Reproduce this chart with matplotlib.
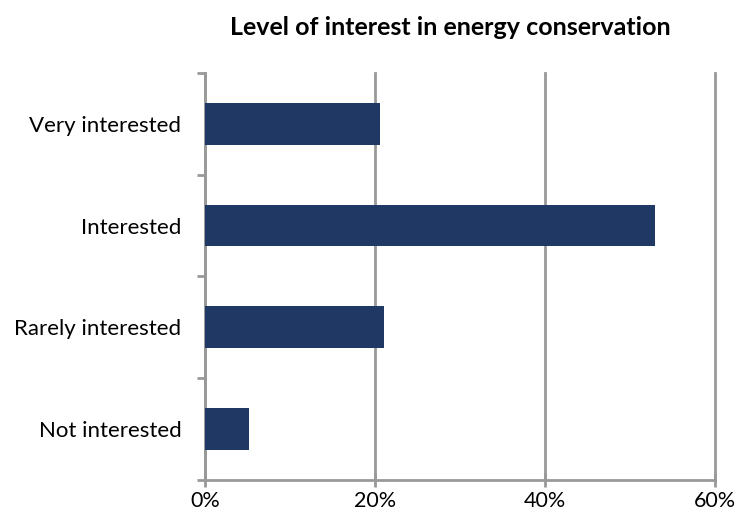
import matplotlib
matplotlib.use("Agg")
import matplotlib.pyplot as plt
import numpy as np

# survey answers, top to bottom as shown
categories = ["Very interested", "Interested", "Rarely interested", "Not interested"]
shares = [20.6, 52.9, 21.1, 5.2]
xticks = [0, 20, 40, 60]
xtick_labels = ["0%", "20%", "40%", "60%"]

plt.rcParams["font.family"] = ["Lato", "DejaVu Sans"]

fig = plt.figure(figsize=(7.39, 5.22), dpi=100)
ax = fig.add_axes([0.2774, 0.0805, 0.6901, 0.7797])

pos = np.arange(len(categories))[::-1]
ax.barh(pos, shares, height=0.41, color="#203864", zorder=3)

ax.set_xlim(0, 60)
ax.set_ylim(-0.5, len(categories) - 0.5)
ax.set_xticks(xticks)
ax.set_xticklabels(xtick_labels, fontsize=15.5)
ax.set_yticks(pos)
ax.set_yticklabels(categories, fontsize=16)
ax.tick_params(axis="y", which="major", length=0, pad=17)
ax.set_yticks(np.arange(len(categories) + 1) - 0.5, minor=True)
ax.tick_params(axis="y", which="minor", length=6, width=2, color="#999999", direction="out")
ax.tick_params(axis="x", length=10, width=2, color="#999999", direction="inout", pad=3)

ax.grid(axis="x", color="#999999", linewidth=2, zorder=0)
for line in ax.xaxis.get_gridlines():
    line.set_clip_on(False)
for side in ["top", "right"]:
    ax.spines[side].set_visible(False)
for side in ["left", "bottom"]:
    ax.spines[side].set_color("#999999")
    ax.spines[side].set_linewidth(2)

fig.text(0.609, 0.948, "Level of interest in energy conservation",
         ha="center", va="center", fontsize=18, fontweight="bold")

fig.savefig("out.png", dpi=100)
